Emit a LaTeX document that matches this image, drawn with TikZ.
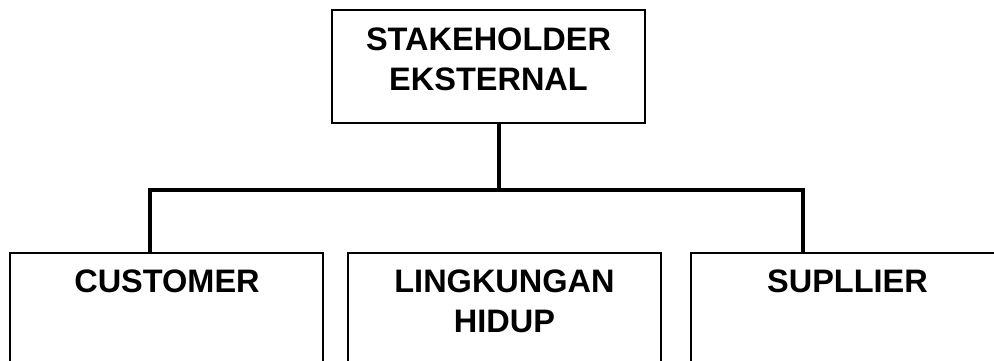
\documentclass[tikz,border=0pt]{standalone}
\usepackage{fontspec}
\setmainfont{Liberation Sans}
\begin{document}
\begin{tikzpicture}[x=1pt,y=-1pt,
  box/.style={draw,line width=2pt,inner sep=0pt,outer sep=0pt,minimum width=313pt},
  lbl/.style={font=\bfseries\fontsize{32.5}{40}\selectfont,anchor=base,inner sep=0pt},
  conn/.style={line width=3.5pt}]
\useasboundingbox (0,0) rectangle (994,360);
\clip (0,0) rectangle (994,360);
% boxes
\node[box,minimum height=113pt] (top) at (488.5,66.5) {};
\node[box,minimum height=127pt] (cust) at (166.5,316.5) {};
\node[box,minimum height=127pt] (ling) at (504.5,316.5) {};
\node[box,minimum height=127pt] (supp) at (847.5,316.5) {};
% texts
\node[lbl] (t1) at (488.5,50) {STAKEHOLDER};
\node[lbl] (t2) at (488.5,90) {EKSTERNAL};
\node[lbl] (c1) at (167,292) {CUSTOMER};
\node[lbl] (l1) at (504.5,292) {LINGKUNGAN};
\node[lbl] (l2) at (504.5,332) {HIDUP};
\node[lbl] (s1) at (847.5,292) {SUPLLIER};
% connectors
\coordinate (jm) at (499,190);
\coordinate (jl) at (150,190);
\coordinate (jr) at (803,190);
\draw[conn] (jm |- top.south) -- (jm);
\draw[conn] (jl |- cust.north) -- (jl) -- (jr) -- (jr |- supp.north);
\end{tikzpicture}
\end{document}
